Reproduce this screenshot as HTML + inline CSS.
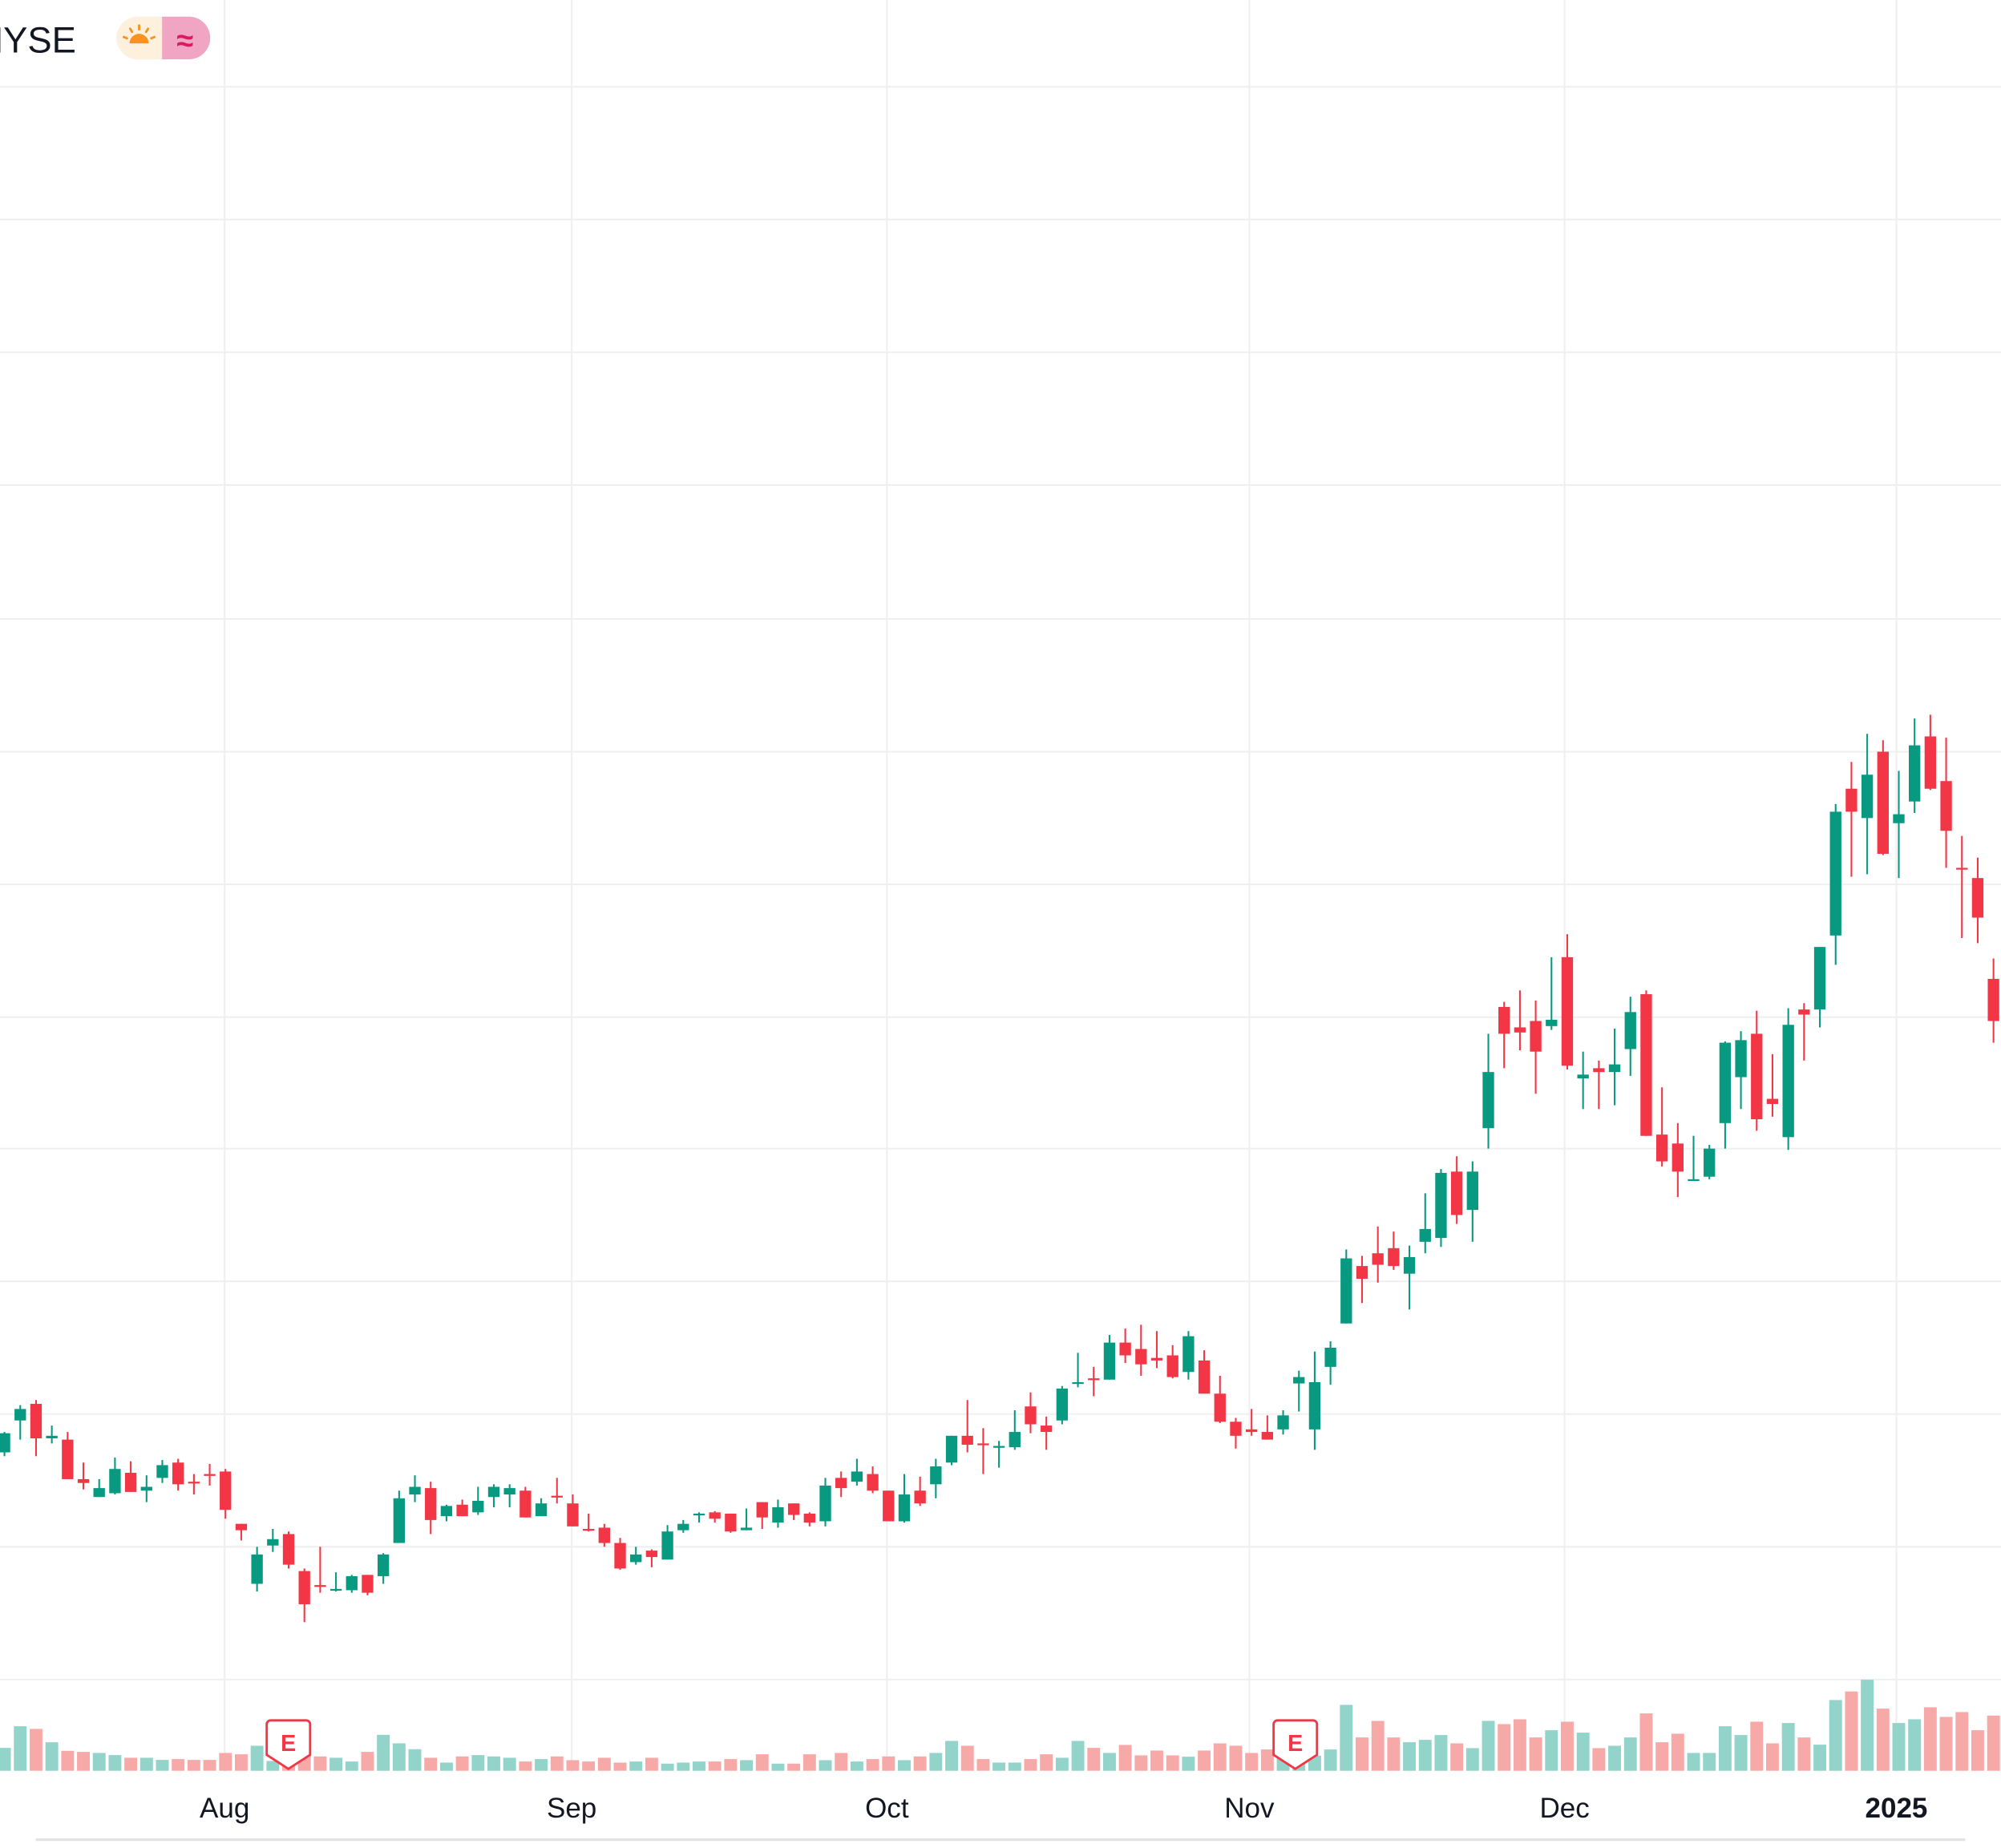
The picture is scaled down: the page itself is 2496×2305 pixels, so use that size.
<!DOCTYPE html>
<html><head><meta charset="utf-8"><style>
html,body{margin:0;padding:0;background:#fff;overflow:hidden}
svg{display:block}
</style></head><body>
<svg id="c" xmlns="http://www.w3.org/2000/svg" width="2496" height="2305" viewBox="0 0 1568 1448" preserveAspectRatio="none" font-family="'Liberation Sans', sans-serif">
<rect width="1568" height="1448" fill="#fff"/>
<g id="grid" stroke="#efefef" stroke-width="1.3"></g>
<g id="vol"></g>
<g id="cand"></g>
<g id="marks"></g>
<text x="-18" y="41" font-size="28.5" fill="#131722">NYSE</text>
<path d="M108 13 h19 v33.5 h-19 a16.75 16.75 0 0 1 0 -33.5z" fill="#fdf0dc"/>
<path d="M127 13 h21 a16.75 16.75 0 0 1 0 33.5 h-21z" fill="#f0a6c2"/>
<g fill="#f7931e" stroke="#f7931e" stroke-linecap="round">
<path d="M101.5 34 a7.5 7.5 0 0 1 15 0z" stroke="none"/>
<line x1="109" y1="20" x2="109" y2="23" stroke-width="1.8"/>
<line x1="102" y1="22.5" x2="103.5" y2="25" stroke-width="1.8"/>
<line x1="116" y1="22.5" x2="114.5" y2="25" stroke-width="1.8"/>
<line x1="97" y1="29" x2="99.5" y2="30" stroke-width="1.8"/>
<line x1="121" y1="29" x2="118.5" y2="30" stroke-width="1.8"/>
</g>
<text x="145" y="40" font-size="24" font-weight="bold" fill="#d81b63" text-anchor="middle">≈</text>
<g font-size="22" fill="#131722" text-anchor="middle">
<text x="176" y="1424">Aug</text>
<text x="448" y="1424">Sep</text>
<text x="695" y="1424">Oct</text>
<text x="979" y="1424">Nov</text>
<text x="1226" y="1424">Dec</text>
<text x="1486" y="1424" font-weight="bold">2025</text>
</g>
<line x1="28" y1="1441.5" x2="1540" y2="1441.5" stroke="#e3e3e3" stroke-width="2"/>
</svg>
<script>
var NS="http://www.w3.org/2000/svg";
function el(p,t,a){var e=document.createElementNS(NS,t);for(var k in a)e.setAttribute(k,a[k]);p.appendChild(e);return e;}
var g=document.getElementById('grid');
[68,172,276,380,485,589,693,797,900,1004,1108,1212,1316].forEach(function(y){el(g,'line',{x1:0,x2:1568,y1:y,y2:y});});
[176,448,695,979,1226,1486].forEach(function(x){el(g,'line',{x1:x,x2:x,y1:0,y2:1388});});
var C=[[1123,1138,1122,1141,1],[1104,1113,1101,1128,1],[1100,1127,1097,1141,0],[1125,1127,1117,1131,1],[1128,1159,1122,1159,0],[1159,1162,1146,1167,0],[1166,1173,1159,1173,1],[1151,1170,1142,1171,1],[1154,1169,1145,1169,0],[1165,1168,1156,1177,1],[1148,1158,1144,1162,1],[1146,1163,1143,1168,0],[1161,1162,1155,1171,0],[1155,1156,1147,1164,0],[1153,1183,1151,1190,0],[1194,1199,1194,1207,0],[1218,1241,1212,1247,1],[1206,1211,1198,1216,1],[1202,1226,1200,1229,0],[1231,1257,1229,1271,0],[1242,1243,1212,1248,0],[1245,1246,1232,1247,1],[1235,1246,1234,1248,1],[1234,1248,1234,1250,0],[1218,1235,1217,1241,1],[1174,1209,1168,1209,1],[1165,1171,1156,1177,1],[1166,1191,1161,1202,0],[1180,1188,1179,1192,1],[1179,1188,1175,1188,0],[1176,1185,1165,1187,1],[1165,1173,1163,1181,1],[1166,1171,1163,1181,1],[1168,1189,1165,1189,0],[1178,1188,1174,1188,1],[1172,1173,1158,1178,0],[1178,1196,1171,1196,0],[1198,1199,1186,1200,0],[1197,1209,1194,1212,0],[1209,1229,1205,1230,0],[1218,1224,1212,1226,1],[1215,1220,1214,1228,0],[1200,1222,1195,1222,1],[1194,1199,1191,1201,1],[1186,1187,1185,1193,1],[1185,1190,1184,1193,0],[1186,1200,1186,1201,0],[1197,1199,1182,1199,1],[1177,1189,1177,1198,0],[1181,1193,1175,1197,1],[1178,1187,1178,1191,0],[1186,1193,1185,1196,0],[1164,1192,1158,1196,1],[1158,1166,1153,1173,0],[1153,1161,1143,1164,1],[1155,1168,1149,1170,0],[1168,1192,1168,1192,0],[1171,1192,1155,1193,1],[1168,1178,1157,1180,0],[1149,1163,1143,1174,1],[1125,1146,1125,1148,1],[1125,1132,1097,1138,0],[1131,1132,1119,1155,0],[1133,1134,1129,1150,1],[1122,1134,1105,1136,1],[1102,1116,1091,1123,0],[1117,1122,1110,1136,0],[1088,1113,1086,1116,1],[1083,1084,1060,1087,1],[1080,1081,1071,1094,0],[1052,1081,1046,1081,1],[1052,1062,1041,1068,0],[1057,1069,1038,1078,0],[1064,1066,1043,1072,0],[1062,1079,1054,1080,0],[1047,1075,1043,1081,1],[1066,1092,1058,1092,0],[1092,1114,1078,1115,0],[1114,1125,1111,1135,0],[1120,1122,1104,1125,0],[1122,1128,1109,1128,0],[1109,1120,1105,1124,1],[1079,1084,1074,1106,1],[1083,1120,1059,1136,1],[1056,1071,1051,1085,1],[986,1037,979,1037,1],[992,1002,984,1021,0],[982,991,961,1005,0],[978,992,965,995,0],[985,998,976,1026,1],[963,973,935,982,1],[919,970,916,977,1],[918,952,906,959,0],[918,948,910,973,1],[840,884,810,900,1],[789,810,785,837,0],[805,809,776,823,0],[800,824,784,857,0],[799,804,750,807,1],[750,835,732,838,0],[842,845,824,869,1],[837,840,831,869,0],[834,840,806,866,1],[793,822,781,843,1],[779,890,776,890,0],[889,910,852,914,0],[896,918,880,938,0],[924,925,890,925,1],[900,922,897,924,1],[817,880,816,900,1],[815,844,808,869,1],[810,877,792,886,0],[861,865,826,875,0],[803,891,790,901,1],[791,795,786,831,0],[742,791,742,805,1],[636,733,630,756,1],[618,636,597,687,0],[607,641,575,685,1],[589,669,580,670,0],[638,645,604,688,1],[584,628,563,637,1],[577,618,560,619,0],[612,651,578,680,0],[680,681,655,735,0],[688,719,672,739,0],[767,800,751,817,0],[774,800,760,810,0]];
var V=[271,190,200,250,282,286,290,298,308,308,316,313,316,316,290,295,263,320,330,282,303,308,322,286,222,254,276,308,326,303,298,303,308,322,313,303,317,322,308,326,322,308,330,326,322,322,313,317,295,330,330,295,317,290,322,313,303,317,303,290,245,263,313,326,326,313,295,308,245,271,290,260,299,281,299,304,281,254,263,290,277,299,310,300,277,110,232,170,232,250,241,223,254,272,170,182,164,232,205,173,214,272,263,232,142,250,218,290,290,190,223,173,254,178,232,259,92,60,16,124,178,164,119,155,137,205,150,150];
var cg=document.getElementById('cand'),vg=document.getElementById('vol');
C.forEach(function(d,i){
  var x=3.5+i*12.37,col=d[4]?'#089981':'#f23645',vcol=d[4]?'#92d3ca':'#f7a9a8';
  var vt=1312.8+V[i]*0.2094;
  el(vg,'rect',{x:x-5,y:vt,width:10,height:1387.5-vt,fill:vcol});
  el(cg,'rect',{x:x-0.65,y:d[2],width:1.3,height:Math.max(d[3]-d[2],1),fill:col});
  el(cg,'rect',{x:x-4.5,y:d[0],width:9,height:Math.max(d[1]-d[0],1.4),fill:col});
});
var mg=document.getElementById('marks');
[226,1015].forEach(function(cx){
  el(mg,'path',{d:'M'+(cx-17)+' 1351 a3 3 0 0 1 3 -3 h28 a3 3 0 0 1 3 3 v24 L'+cx+' 1386 L'+(cx-17)+' 1375 Z',fill:'#fff',stroke:'#f23645','stroke-width':1.8});
  var t=el(mg,'text',{x:cx,y:1372,'font-size':18,'font-weight':'bold',fill:'#f23645','text-anchor':'middle'});t.textContent='E';
});
</script>
</body></html>
